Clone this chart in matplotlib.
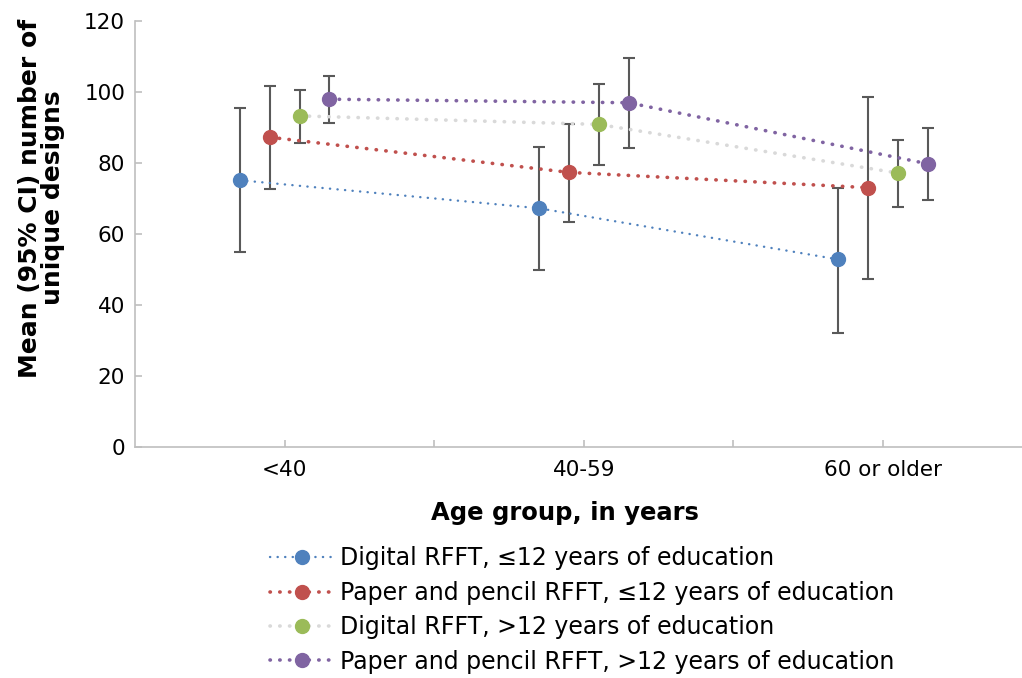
import matplotlib
matplotlib.use("Agg")
import matplotlib.pyplot as plt
import numpy as np

# data
age_groups = ["<40", "40-59", "60 or older"]
series_names = [
    "Digital RFFT, \u226412 years of education",
    "Paper and pencil RFFT, \u226412 years of education",
    "Digital RFFT, >12 years of education",
    "Paper and pencil RFFT, >12 years of education",
]
means = [
    [75.1, 67.2, 52.8],
    [87.2, 77.3, 73.0],
    [93.2, 90.8, 77.1],
    [97.9, 96.9, 79.7],
]
ci_low = [
    [54.9, 49.8, 32.2],
    [72.6, 63.4, 47.2],
    [85.6, 79.4, 67.6],
    [91.3, 84.1, 69.5],
]
ci_high = [
    [95.3, 84.5, 73.0],
    [101.7, 90.9, 98.5],
    [100.5, 102.2, 86.3],
    [104.4, 109.5, 89.9],
]

marker_colors = ["#4F81BD", "#C0504D", "#9BBB59", "#8064A2"]
line_colors = ["#4F81BD", "#C0504D", "#D9D9D9", "#8064A2"]
line_widths = [1.7, 2.6, 2.6, 2.6]
dash_gaps = [3.1, 2.6, 2.6, 2.6]
offsets = [-0.15, -0.05, 0.05, 0.15]

fig = plt.figure(figsize=(10.22, 6.78), dpi=100)
ax = fig.add_axes([0.132, 0.3407, 0.868, 0.6288])

x = np.arange(len(age_groups))
for i in range(4):
    xs = x + offsets[i]
    m = np.array(means[i])
    lo = m - np.array(ci_low[i])
    hi = np.array(ci_high[i]) - m
    ax.errorbar(xs, m, yerr=[lo, hi], fmt="none", ecolor="#595959",
                elinewidth=1.5, capsize=4, capthick=1.5, zorder=2)
    ax.plot(xs, m, color=line_colors[i], lw=line_widths[i],
            linestyle=(0, (0.1, dash_gaps[i])), dash_capstyle="round",
            marker="o", markersize=10, markerfacecolor=marker_colors[i],
            markeredgecolor=marker_colors[i], label=series_names[i], zorder=3)

ax.set_xlim(-0.5, 2.464)
ax.set_ylim(0, 120)
ax.set_yticks(np.arange(0, 121, 20))
ax.set_xticks(x)
ax.set_xticks([0.5, 1.5], minor=True)
ax.set_xticklabels(age_groups)

for s in ["top", "right"]:
    ax.spines[s].set_visible(False)
for s in ["left", "bottom"]:
    ax.spines[s].set_color("#BFBFBF")
    ax.spines[s].set_linewidth(1.2)
ax.tick_params(axis="both", which="both", direction="in", length=5,
               color="#BFBFBF", width=1.2, labelsize=15.5, colors="#BFBFBF",
               labelcolor="black")
ax.tick_params(axis="y", pad=7)
ax.tick_params(axis="x", pad=9)

fig.text(0.041, 0.708, "Mean (95% CI) number of\nunique designs", rotation=90,
         ha="center", va="center", fontsize=18, fontweight="bold",
         linespacing=0.95)
fig.text(0.553, 0.243, "Age group, in years", ha="center", va="center",
         fontsize=17.5, fontweight="bold")

fig.legend(loc="upper left", bbox_to_anchor=(0.264, 0.194), frameon=False,
           fontsize=17, handlelength=2.75, handletextpad=0.22, labelspacing=0.44,
           numpoints=1, borderaxespad=0, borderpad=0)

fig.savefig("out.png", dpi=100)
